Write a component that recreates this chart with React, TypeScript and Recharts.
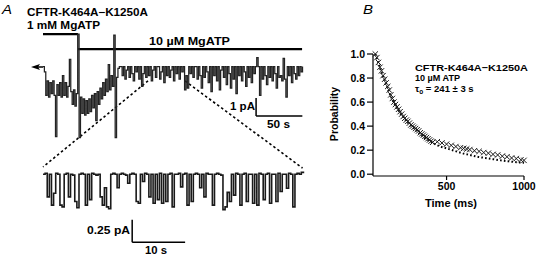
import { LineChart, Line, XAxis, YAxis, ReferenceLine, ComposedChart, Scatter } from 'recharts'

const FONT = '"Liberation Sans", Arial, Helvetica, sans-serif'

// Panel A, whole record: one sample every 1.5 s, current in pA (0 = closed level)
const TOP_STEP = 1.5
const topCurrent = [
    0, -0.3, -1.6, -0.8, -1.7, -0.9, -1.5, -0.8, -1.6, -3.9, -1.0, -1.6,
    -0.9, -1.7, -0.5, -1.6, -0.9, -1.7, -1.1, 0.4, -1.4, -2.1, -1.3, -2.2,
    -1.5, 1.8, -3.95, -1.7, -2.6, -1.8, -2.7, -1.9, -2.6, -1.8, -2.5, -1.6,
    -2.3, -1.5, -3.0, -1.4, -2.1, -1.2, -1.8, -0.9, -1.6, -0.7, -1.4, 0.1,
    -1.3, -0.5, -1.1, 1.75, -3.95, -0.6, -0.1, 0,
    0, -0.5, 0, -0.7, -0.2, 0, -0.6, 0, -0.4, -0.8, 0, -0.3,
    0, -0.7, 0, -1.1, -0.4, 0, -0.6, 0, -0.5, 0, -0.8, -0.2,
    0, -0.6, 0, 0, -0.7, -0.3, 0, -0.9, 0, -0.5, 0, -0.6,
    -0.2, 0, -0.8, 0, -0.4, 0, -0.7, 0, -0.3, 0, -1.3, -0.5,
    -1.2, 0, -0.4, 0, -0.6, 0, 0, -0.7, 0, -0.5, -1.2, 0,
    -0.6, 0, -0.3, -0.9, 0, -1.4, 0, -0.5, 0, -0.8, 0, -1.3,
    -0.2, 0, -0.6, 0, -1.0, 0, -0.4, -1.2, 0, -0.7, 0, -1.5,
    0, -0.5, 0, -0.8, 0, -0.3, -1.1, 0, -0.6, 0, -0.9, 0,
    -0.4, 0, 0.5, 0, -1.6, 0, -0.7, 0, -0.5, -1.0, 0, -0.6,
    0, -0.8, 0, -0.4, -1.2, 0, -0.6, -0.5, -0.8, 0.45, -0.7, -1.7,
    0, -0.5, 0, -0.9, 0, -0.4, -0.7, 0, -0.5, 0, -0.3, 0,
]

// Panel A, expanded stretch: one sample every 0.4 s
const BOT_STEP = 0.4
const botCurrent = [
    0, 0.01, -0.25, 0, -0.34, -0.21, 0.01, 0, -0.34, -0.36, 0, 0.01,
    -0.25, 0, -0.01, -0.3, -0.37, 0, 0.01, 0, -0.34, 0, -0.28, 0.01,
    0, -0.01, 0, -0.25, -0.34, -0.15, -0.36, -0.38, 0, 0.01, 0, -0.15,
    0, 0.01, 0, -0.01, -0.1, 0, 0.01, 0, -0.3, -0.32, 0, -0.08,
    0.01, 0, -0.25, 0, -0.32, 0, -0.28, 0.01, -0.32, 0, -0.3, 0,
    0.01, -0.36, 0, 0, 0.01, -0.14, 0, 0.01, -0.34, 0, -0.3, 0,
    0.01, 0, -0.15, 0, -0.25, 0.01, 0, 0, -0.34, 0, 0.01, 0,
    -0.01, -0.39, -0.36, -0.2, -0.3, 0, -0.23, 0.01, 0, -0.34, 0, 0.01,
    -0.3, 0, 0, -0.32, 0, -0.34, 0.01, 0, -0.28, 0, 0.01, -0.32,
    0, 0, -0.3, 0.01, -0.19, 0, 0, -0.155, 0.01, 0, -0.36, 0,
    0.01, 0, 0.02, 0.01,
]

// Panel B: open probability vs time
const crossTime = [
    40, 50, 60, 70, 80, 90, 100, 110, 120, 130, 140, 150, 160, 170, 180, 190, 200, 210, 220,
    230, 240, 250, 260, 270, 280, 290, 300, 310, 320, 330, 340, 350, 360, 370, 380, 390, 400, 410,
    440, 470, 500, 530, 560, 590, 610, 630, 650, 680, 710, 740, 770, 800, 830, 860, 890, 920, 950, 980, 1000,
]
const crossProb = [
    1.0, 0.97, 0.93, 0.89, 0.86, 0.82, 0.79, 0.76, 0.73, 0.7, 0.66, 0.63, 0.6, 0.58, 0.56, 0.54, 0.52, 0.5, 0.48,
    0.465, 0.45, 0.44, 0.425, 0.41, 0.4, 0.39, 0.38, 0.37, 0.36, 0.345, 0.335, 0.325, 0.315, 0.305, 0.295, 0.285, 0.275, 0.265,
    0.27, 0.26, 0.25, 0.24, 0.23, 0.22, 0.215, 0.21, 0.205, 0.195, 0.19, 0.18, 0.175, 0.165, 0.16, 0.15, 0.145, 0.135, 0.13, 0.12, 0.115,
]
const fitTime = [40, 100, 150, 200, 250, 300, 350, 400, 450, 500, 550, 600, 650, 700, 750, 800, 850, 900, 950, 1000]
const fitProb = [1.0, 0.78, 0.62, 0.51, 0.43, 0.37, 0.31, 0.27, 0.235, 0.215, 0.195, 0.175, 0.16, 0.145, 0.135, 0.125, 0.115, 0.107, 0.1, 0.095]
const probTicks = [0, 0.2, 0.4, 0.6, 0.8, 1.0]
const timeTicks = [500, 1000]

const topRows = topCurrent.map((v, i) => ({ t: i * TOP_STEP, v }))
const botRows = botCurrent.map((v, i) => ({ t: i * BOT_STEP, v }))
const crossRows = crossTime.map((t, i) => ({ t, p: crossProb[i] }))
const fitRows = fitTime.map((t, i) => ({ t, p: fitProb[i] }))

const CrossMark = (props: any) => {
    const { cx, cy } = props
    const r = 2.7
    return (
        <path
            d={`M${cx - r},${cy - r}L${cx + r},${cy + r}M${cx - r},${cy + r}L${cx + r},${cy - r}`}
            stroke="#1a1a1a"
            strokeWidth={1}
            fill="none"
        />
    )
}

const tickStyle = { fontSize: 10.5, fontWeight: 700, fill: '#000', fontFamily: FONT }

function Txt({ x, y, w, children, size = 10.5, bold = true, italic = false }: any) {
    return (
        <text
            x={x}
            y={y}
            textLength={w}
            lengthAdjust="spacingAndGlyphs"
            fontSize={size}
            fontWeight={bold ? 700 : 400}
            fontStyle={italic ? 'italic' : 'normal'}
            fontFamily={FONT}
            fill="#000"
        >
            {children}
        </text>
    )
}

export default function App() {
    return (
        <div style={{ position: 'absolute', left: 0, top: 0, width: 538, height: 256, background: '#fff', overflow: 'hidden' }}>
            {/* whole record */}
            <div style={{ position: 'absolute', left: 0, top: 0 }}>
                <LineChart width={330} height={175} data={topRows} margin={{ top: 12.5, right: 27, bottom: 0.5, left: 43 }}>
                    <XAxis type="number" dataKey="t" domain={[0, 281]} hide />
                    <YAxis type="number" domain={[-6, 3]} hide />
                    <ReferenceLine segment={[{ x: 0, y: 1.8 }, { x: 37.8, y: 1.8 }]} stroke="#000" strokeWidth={2.2} ifOverflow="visible" />
                    <ReferenceLine segment={[{ x: 37.8, y: 0.97 }, { x: 280, y: 0.97 }]} stroke="#000" strokeWidth={2.2} ifOverflow="visible" />
                    <ReferenceLine segment={[{ x: 230.3, y: -1.75 }, { x: 230.3, y: -2.75 }]} stroke="#000" strokeWidth={1.5} ifOverflow="visible" />
                    <ReferenceLine segment={[{ x: 230.3, y: -2.75 }, { x: 280.3, y: -2.75 }]} stroke="#000" strokeWidth={1.5} ifOverflow="visible" />
                    <ReferenceLine segment={[{ x: 113.5, y: -0.8 }, { x: 0, y: -5.58 }]} stroke="#000" strokeWidth={1.6} strokeDasharray="2.5 2.5" ifOverflow="visible" />
                    <ReferenceLine segment={[{ x: 153.5, y: -0.8 }, { x: 280.5, y: -5.64 }]} stroke="#000" strokeWidth={1.6} strokeDasharray="2.5 2.5" ifOverflow="visible" />
                    <Line type="stepAfter" dataKey="v" stroke="#222" strokeWidth={1.25} dot={false} isAnimationActive={false} />
                </LineChart>
            </div>

            {/* expanded stretch */}
            <div style={{ position: 'absolute', left: 0, top: 130 }}>
                <LineChart width={330} height={127} data={botRows} margin={{ top: 26, right: 25, bottom: 1, left: 43 }}>
                    <XAxis type="number" dataKey="t" domain={[0, 49.5]} hide />
                    <YAxis type="number" domain={[-0.9, 0.2]} hide />
                    <ReferenceLine segment={[{ x: 16.85, y: -0.5 }, { x: 16.85, y: -0.75 }]} stroke="#000" strokeWidth={1.5} ifOverflow="visible" />
                    <ReferenceLine segment={[{ x: 16.85, y: -0.75 }, { x: 26.85, y: -0.75 }]} stroke="#000" strokeWidth={1.5} ifOverflow="visible" />
                    <Line type="stepAfter" dataKey="v" stroke="#1a1a1a" strokeWidth={1.6} dot={false} isAnimationActive={false} />
                </LineChart>
            </div>

            {/* panel B */}
            <div style={{ position: 'absolute', left: 330, top: 0 }}>
                <ComposedChart width={208} height={256} margin={{ top: 54, right: 14, bottom: 50, left: 13 }}>
                    <XAxis
                        type="number"
                        dataKey="t"
                        domain={[25, 1000]}
                        ticks={timeTicks}
                        tick={tickStyle}
                        tickSize={4}
                        tickMargin={3}
                        height={30}
                        stroke="#000"
                        strokeWidth={1.2}
                    />
                    <YAxis
                        type="number"
                        dataKey="p"
                        domain={[-0.015, 1.0]}
                        ticks={probTicks}
                        tickFormatter={(v: number) => v.toFixed(1)}
                        tick={tickStyle}
                        tickSize={6}
                        tickMargin={2}
                        width={30}
                        stroke="#000"
                        strokeWidth={1.2}
                    />
                    <Line data={fitRows} type="monotone" dataKey="p" stroke="#000" strokeWidth={2} strokeDasharray="1.6 2.2" dot={false} isAnimationActive={false} />
                    <Scatter data={crossRows} dataKey="p" shape={CrossMark} isAnimationActive={false} />
                </ComposedChart>
            </div>

            <svg width={538} height={256} style={{ position: 'absolute', left: 0, top: 0, pointerEvents: 'none' }}>
                <Txt x={2} y={14} w={10} size={13} bold={false} italic>A</Txt>
                <Txt x={27} y={15.5} w={121}>CFTR-K464A−K1250A</Txt>
                <Txt x={27} y={29} w={73}>1 mM MgATP</Txt>
                <Txt x={149} y={44.5} w={81}>10 µM MgATP</Txt>
                <polygon points="31,67 40,64 38,67 40,70" fill="#000" />
                <line x1={37} y1={67} x2={43} y2={67} stroke="#000" strokeWidth={1.5} />
                <Txt x={230} y={110} w={25}>1 pA</Txt>
                <Txt x={267} y={128} w={23}>50 s</Txt>
                <Txt x={87} y={234} w={43}>0.25 pA</Txt>
                <Txt x={145} y={254} w={22}>10 s</Txt>

                <Txt x={363} y={14} w={10} size={13} bold={false} italic>B</Txt>
                <Txt x={415} y={71} w={113} size={9.5}>CFTR-K464A−K1250A</Txt>
                <Txt x={415} y={80.5} w={45} size={9.5}>10 µM ATP</Txt>
                <text x={415} y={92} fontSize={9.5} fontWeight={700} fontFamily={FONT} fill="#000">
                    τ<tspan fontSize={6.5} dy={2}>o</tspan>
                    <tspan dy={-2}> = 241 ± 3 s</tspan>
                </text>
                <Txt x={425} y={206.5} w={52}>Time (ms)</Txt>
                <text
                    x={0}
                    y={0}
                    transform="translate(338,114) rotate(-90)"
                    textAnchor="middle"
                    fontSize={10.5}
                    fontWeight={700}
                    fontFamily={FONT}
                    fill="#000"
                >
                    Probability
                </text>
            </svg>
        </div>
    )
}
